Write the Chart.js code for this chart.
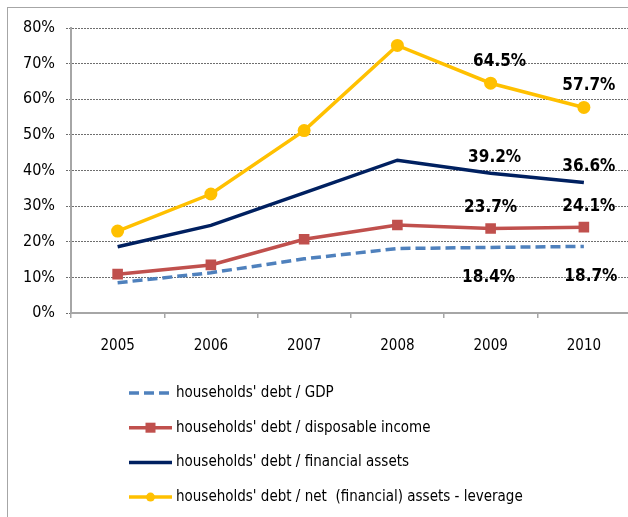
<!DOCTYPE html>
<html>
<head>
<meta charset="utf-8">
<script src="https://cdn.jsdelivr.net/npm/chart.js@4/dist/chart.umd.min.js"></script>
<style>
    html, body { margin: 0; padding: 0; background: #fff; overflow: hidden; }
    #wrap { width: 628px; height: 517px; overflow: hidden; }
</style>
</head>
<body>
<div id="wrap"><canvas id="chart" width="638" height="517"></canvas></div>
<script>
// data (percent)
const years = ['2005', '2006', '2007', '2008', '2009', '2010'];
const debtToGdp = [8.5, 11.3, 15.2, 18.1, 18.4, 18.7];
const debtToIncome = [10.9, 13.5, 20.7, 24.7, 23.7, 24.1];
const debtToAssets = [18.6, 24.6, 33.7, 42.9, 39.2, 36.6];
const debtToNetAssets = [23.0, 33.4, 51.2, 75.1, 64.5, 57.7];
const seriesNames = [
    "households' debt / GDP",
    "households' debt / disposable income",
    "households' debt / financial assets",
    "households' debt / net  (financial) assets - leverage"
];
const labelledPoints = [4, 5]; // 2009 and 2010 get value labels

const FONT = "'DejaVu Sans Condensed', 'DejaVu Sans', sans-serif";

// frame, value labels and legend are drawn by hand
const extras = {
    id: 'extras',
    beforeDraw(chart) {
        const ctx = chart.ctx;
        ctx.save();
        ctx.fillStyle = '#fff';
        ctx.fillRect(0, 0, chart.width, chart.height);
        ctx.strokeStyle = '#a6a6a6';
        ctx.lineWidth = 1;
        ctx.strokeRect(7.5, 7.5, 800, 800);
        ctx.restore();
    },
    afterDatasetsDraw(chart) {
        const ctx = chart.ctx;
        ctx.save();
        ctx.font = 'bold 17px ' + FONT;
        ctx.fillStyle = '#000';
        ctx.textAlign = 'center';
        ctx.textBaseline = 'middle';
        chart.data.datasets.forEach((ds, i) => {
            const meta = chart.getDatasetMeta(i);
            labelledPoints.forEach(j => {
                const pt = meta.data[j];
                ctx.fillText(ds.data[j].toFixed(1) + '%', pt.x + ds.labelDx[j - 4], pt.y + ds.labelDy);
            });
        });
        ctx.restore();
    },
    afterDraw(chart) {
        const ctx = chart.ctx;
        ctx.save();
        ctx.font = '15px ' + FONT;
        ctx.textBaseline = 'middle';
        chart.data.datasets.forEach((ds, i) => {
            const y = 393 + i * 34.7;
            const x0 = 129, x1 = 172;
            ctx.strokeStyle = ds.borderColor;
            ctx.lineWidth = ds.borderWidth;
            ctx.setLineDash(ds.borderDash || []);
            ctx.beginPath();
            ctx.moveTo(x0, y);
            ctx.lineTo(x1, y);
            ctx.stroke();
            ctx.setLineDash([]);
            ctx.fillStyle = ds.borderColor;
            const cx = (x0 + x1) / 2;
            if (ds.pointStyle === 'rect' && ds.pointRadius > 0) {
                ctx.fillRect(cx - 5, y - 5, 10, 10);
            } else if (ds.pointRadius > 0) {
                ctx.beginPath();
                ctx.arc(cx, y, 4.5, 0, Math.PI * 2);
                ctx.fill();
            }
            ctx.fillStyle = '#000';
            ctx.fillText(ds.label, 176, y);
        });
        ctx.restore();
    }
};

new Chart(document.getElementById('chart'), {
    type: 'line',
    data: {
        labels: years,
        datasets: [
            {
                label: seriesNames[0],
                data: debtToGdp,
                borderColor: '#4f81bd',
                backgroundColor: '#4f81bd',
                borderWidth: 3.5,
                borderDash: [10, 5],
                pointRadius: 0,
                labelDy: 30,
                labelDx: [-2, 7]
            },
            {
                label: seriesNames[1],
                data: debtToIncome,
                borderColor: '#c0504d',
                backgroundColor: '#c0504d',
                borderWidth: 3.5,
                pointStyle: 'rect',
                pointRadius: 7.5,
                pointHoverRadius: 7.5,
                pointBorderWidth: 0,
                labelDy: -21,
                labelDx: [0, 5]
            },
            {
                label: seriesNames[2],
                data: debtToAssets,
                borderColor: '#002060',
                backgroundColor: '#002060',
                borderWidth: 3.5,
                pointRadius: 0,
                labelDy: -16,
                labelDx: [4, 5]
            },
            {
                label: seriesNames[3],
                data: debtToNetAssets,
                borderColor: '#ffc000',
                backgroundColor: '#ffc000',
                borderWidth: 3.5,
                pointStyle: 'circle',
                pointRadius: 6.5,
                pointHoverRadius: 6.5,
                pointBorderWidth: 0,
                labelDy: -22,
                labelDx: [9, 5]
            }
        ]
    },
    options: {
        responsive: false,
        animation: false,
        devicePixelRatio: 1,
        layout: { padding: { top: 28, left: 0, right: 0, bottom: 0 } },
        elements: { line: { tension: 0 } },
        plugins: {
            legend: { display: false },
            tooltip: { enabled: false }
        },
        scales: {
            x: {
                offset: true,
                afterFit(scale) { scale.height = 204; },
                grid: {
                    drawOnChartArea: false,
                    offset: true,
                    tickLength: 5,
                    tickColor: '#a6a6a6',
                    lineWidth: 1.5
                },
                border: { color: '#a6a6a6', width: 2 },
                ticks: {
                    font: { family: FONT, size: 15 },
                    color: '#000',
                    padding: 19,
                    maxRotation: 0
                }
            },
            y: {
                min: 0,
                max: 80,
                afterFit(scale) { scale.width = 71; },
                grid: {
                    color: '#6e6e6e',
                    lineWidth: 1,
                    tickLength: 5,
                    tickBorderDash: [2, 1]
                },
                border: { color: '#a6a6a6', width: 2, dash: [2, 1] },
                ticks: {
                    stepSize: 10,
                    font: { family: FONT, size: 16 },
                    color: '#000',
                    padding: 11,
                    callback: v => v + '%'
                }
            }
        }
    },
    plugins: [extras]
});
</script>
</body>
</html>
